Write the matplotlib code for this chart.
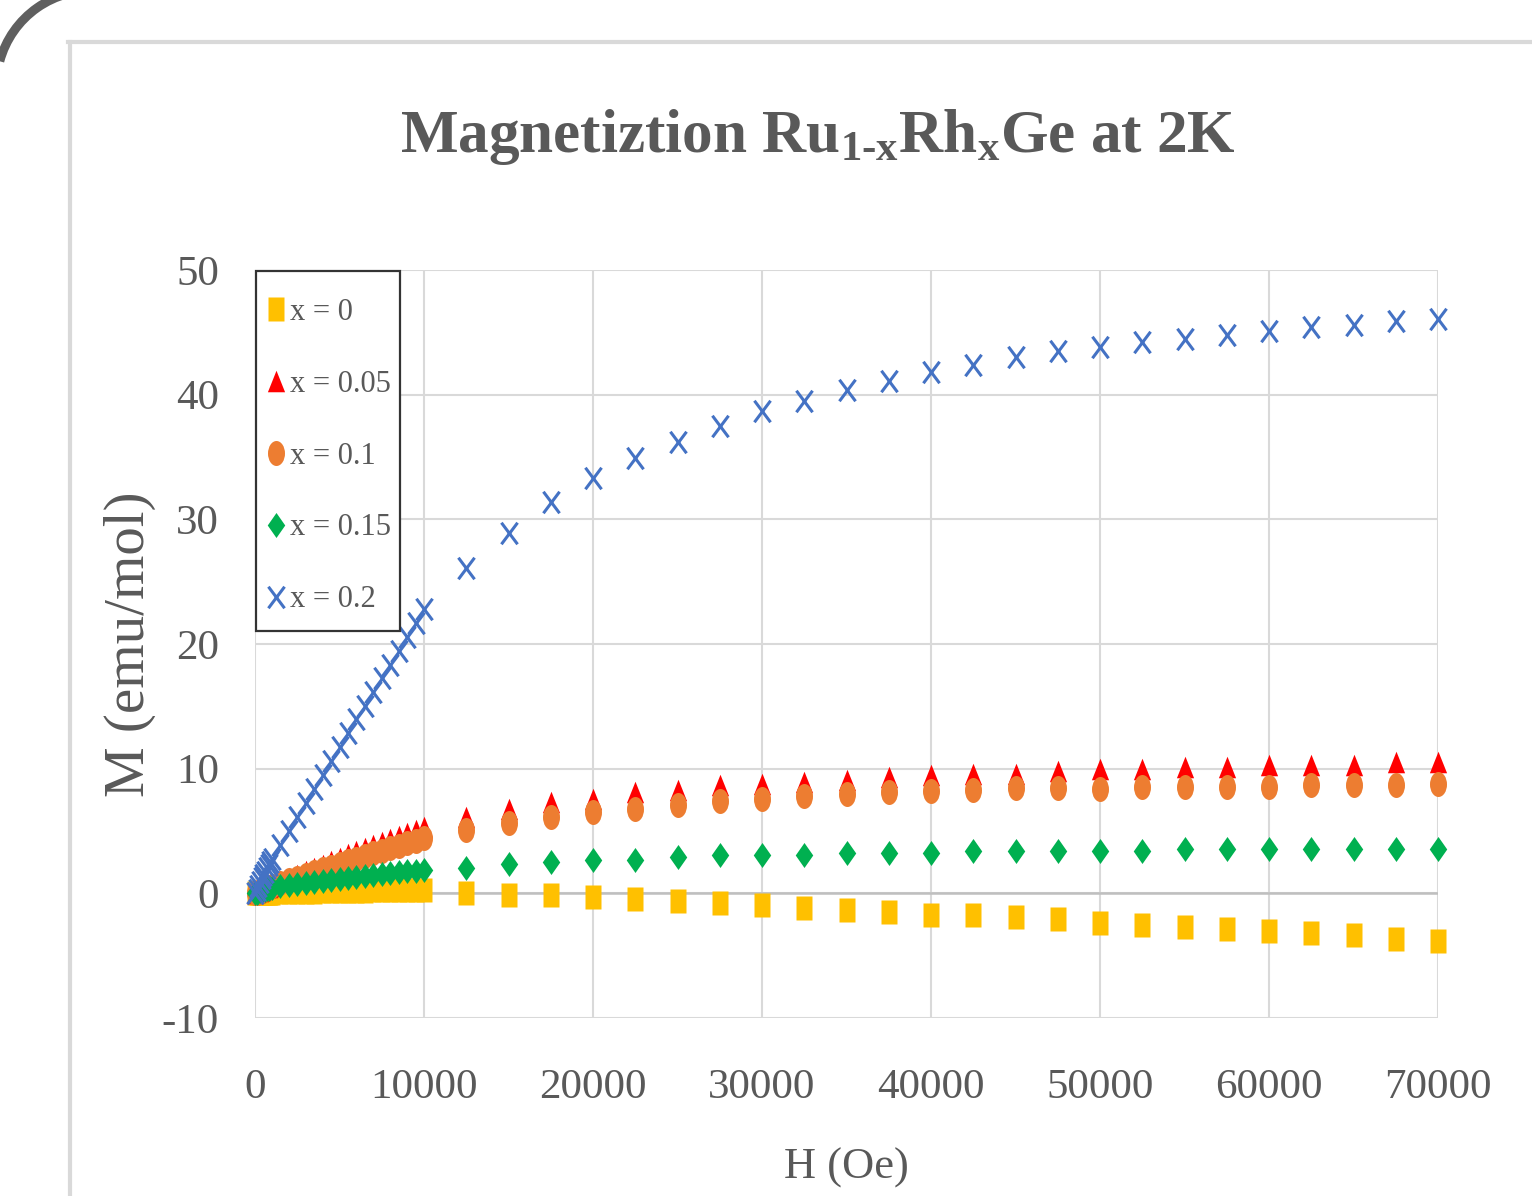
import matplotlib
matplotlib.use("Agg")
import matplotlib.pyplot as plt
import numpy as np
from matplotlib.path import Path
from matplotlib.lines import Line2D
from matplotlib.patches import Arc, Rectangle

plt.rcParams['font.family'] = ['Liberation Serif', 'DejaVu Serif']
plt.rcParams['mathtext.fontset'] = 'custom'
plt.rcParams['mathtext.rm'] = 'Liberation Serif:bold'
plt.rcParams['mathtext.it'] = 'Liberation Serif:bold'
plt.rcParams['mathtext.bf'] = 'Liberation Serif:bold'

# ---------------- data ----------------
field_oe = [0, 100, 200, 300, 400, 500, 600, 700, 800, 900, 1000,
            1500, 2000, 2500, 3000, 3500, 4000, 4500, 5000, 5500, 6000,
            6500, 7000, 7500, 8000, 8500, 9000, 9500, 10000,
            12500, 15000, 17500, 20000, 22500, 25000, 27500, 30000, 32500,
            35000, 37500, 40000, 42500, 45000, 47500, 50000, 52500, 55000,
            57500, 60000, 62500, 65000, 67500, 70000]

m_x0 = [0.0, 0.0, 0.01, 0.02, 0.02, 0.03, 0.03, 0.04, 0.04, 0.05, 0.05,
        0.07, 0.09, 0.11, 0.13, 0.14, 0.16, 0.17, 0.19, 0.2, 0.21,
        0.22, 0.23, 0.24, 0.25, 0.25, 0.26, 0.26, 0.25,
        0.05, -0.14, -0.14, -0.27, -0.46, -0.62, -0.81, -0.95, -1.16,
        -1.35, -1.49, -1.70, -1.76, -1.88, -2.04, -2.37, -2.53, -2.72,
        -2.85, -3.04, -3.17, -3.36, -3.68, -3.84]

m_x005 = [0.0, 0.08, 0.15, 0.22, 0.29, 0.36, 0.42, 0.48, 0.54, 0.6, 0.66,
          0.95, 1.23, 1.5, 1.77, 2.03, 2.29, 2.57, 2.85, 3.12, 3.38,
          3.64, 3.9, 4.14, 4.38, 4.62, 4.86, 5.08, 5.3,
          6.1, 6.8, 7.3, 7.6, 8.1, 8.3, 8.7, 8.8, 8.9,
          9.1, 9.3, 9.5, 9.6, 9.6, 9.8, 9.95, 9.95, 10.1,
          10.1, 10.3, 10.3, 10.3, 10.5, 10.5]

m_x01 = [0.0, 0.06, 0.12, 0.18, 0.24, 0.3, 0.35, 0.4, 0.45, 0.5, 0.55,
         0.8, 1.03, 1.26, 1.49, 1.71, 1.93, 2.15, 2.37, 2.58, 2.79,
         3.0, 3.21, 3.42, 3.62, 3.82, 4.02, 4.22, 4.42,
         5.05, 5.68, 6.14, 6.49, 6.76, 7.11, 7.38, 7.57, 7.84,
         7.97, 8.11, 8.24, 8.30, 8.47, 8.47, 8.39, 8.52, 8.52,
         8.52, 8.52, 8.66, 8.66, 8.66, 8.79]

m_x015 = [0.0, 0.05, 0.1, 0.15, 0.2, 0.25, 0.29, 0.33, 0.37, 0.41, 0.45,
          0.58, 0.68, 0.77, 0.86, 0.94, 1.02, 1.1, 1.18, 1.26, 1.34,
          1.41, 1.48, 1.55, 1.62, 1.69, 1.76, 1.83, 1.9,
          2.03, 2.35, 2.51, 2.70, 2.70, 2.89, 3.05, 3.05, 3.05,
          3.24, 3.24, 3.24, 3.38, 3.41, 3.41, 3.41, 3.41, 3.55,
          3.55, 3.55, 3.55, 3.55, 3.55, 3.55]

m_x02 = [0.0, 0.3, 0.6, 0.9, 1.2, 1.5, 1.75, 2.0, 2.25, 2.5, 2.75,
         3.9, 5.0, 6.15, 7.25, 8.4, 9.5, 10.6, 11.75, 12.85, 13.95,
         15.05, 16.15, 17.25, 18.35, 19.45, 20.55, 21.7, 22.8,
         26.06, 28.9, 31.4, 33.3, 34.9, 36.2, 37.5, 38.7, 39.5,
         40.4, 41.1, 41.8, 42.4, 43.0, 43.5, 43.8, 44.2, 44.5,
         44.8, 45.1, 45.4, 45.6, 45.9, 46.1]

series_labels = ["x = 0", "x = 0.05", "x = 0.1", "x = 0.15", "x = 0.2"]
series_colors = ["#FFC000", "#FF0000", "#ED7D31", "#00B050", "#4472C4"]
x_ticks = [0, 10000, 20000, 30000, 40000, 50000, 60000, 70000]
y_ticks = [-10, 0, 10, 20, 30, 40, 50]

# ---------------- markers (vertically stretched like the source) ----------------
sq = Path([(-0.7, -1), (0.7, -1), (0.7, 1), (-0.7, 1), (-0.7, -1)],
          [Path.MOVETO, Path.LINETO, Path.LINETO, Path.LINETO, Path.CLOSEPOLY])
tri = Path([(0, 1), (-0.8, -1), (0.8, -1), (0, 1)],
           [Path.MOVETO, Path.LINETO, Path.LINETO, Path.CLOSEPOLY])
uc = Path.unit_circle()
ell = Path(uc.vertices * np.array([0.68, 1.0]), uc.codes)
dia = Path([(0, 1), (0.7, 0), (0, -1), (-0.7, 0), (0, 1)],
           [Path.MOVETO, Path.LINETO, Path.LINETO, Path.LINETO, Path.CLOSEPOLY])
xm = Path([(-0.75, -1), (0.75, 1), (-0.75, 1), (0.75, -1)],
          [Path.MOVETO, Path.LINETO, Path.MOVETO, Path.LINETO])

styles = [
    dict(marker=sq, ms=17.3, mec='none'),
    dict(marker=tri, ms=15.5, mec='none'),
    dict(marker=ell, ms=18.0, mec='none'),
    dict(marker=dia, ms=18.0, mec='none'),
    dict(marker=xm, ms=15.5, mfc='none', mew=2.2),
]

W, H = 1532, 1196
fig = plt.figure(figsize=(W / 100, H / 100), dpi=100)
fig.patch.set_facecolor('white')

# overlay for frame + corner arc
ov = fig.add_axes([0, 0, 1, 1], zorder=0)
ov.set_xlim(0, W)
ov.set_ylim(H, 0)
ov.axis('off')
ov.add_line(Line2D([70, 70], [42, H + 5], color='#d9d9d9', lw=3))
ov.add_line(Line2D([68, W + 5], [42, 42], color='#d9d9d9', lw=3))
ov.add_patch(Arc((92, 86), 2 * 95.5, 2 * 95.5, theta1=195, theta2=275,
                 color='#5f5f5f', lw=6.5))

ax = fig.add_axes([255 / W, 1 - 1018 / H, (1438 - 255) / W, (1018 - 270) / H], zorder=2)
ax.set_facecolor('none')

data = [m_x0, m_x005, m_x01, m_x015, m_x02]
handles = []
for vals, lab, col, st in zip(data, series_labels, series_colors, styles):
    kw = dict(st)
    if kw.get('mfc') == 'none':
        kw['mec'] = col
    else:
        kw['mfc'] = col
    h, = ax.plot(field_oe, vals, linestyle='none', color=col, label=lab,
                 zorder=3, clip_on=False, **kw)
    handles.append(h)

ax.set_xlim(0, 70000)
ax.set_ylim(-10, 50)
ax.set_xticks(x_ticks)
ax.set_yticks(y_ticks)
ax.set_xticklabels([str(v) for v in x_ticks])
ax.set_yticklabels([str(v) for v in y_ticks])
ax.grid(True, color='#d9d9d9', lw=1.5, zorder=0)
ax.set_axisbelow(True)
ax.axhline(0, color='#bfbfbf', lw=1.8, zorder=1)
for s in ax.spines.values():
    s.set_visible(False)
ax.tick_params(axis='both', length=0, colors='#595959', labelsize=31)
ax.tick_params(axis='x', pad=36)
ax.tick_params(axis='y', pad=26)

ax.set_xlabel("H (Oe)", fontsize=32, color='#595959', va='center')
ax.xaxis.set_label_coords(0.5, -0.2)
ax.set_ylabel("M (emu/mol)", fontsize=41, color='#595959', va='center')
ax.yaxis.set_label_coords(-0.106, 0.5)

# legend box (drawn explicitly) + legend content
box = Rectangle((256 / W, 1 - 631 / H), (400 - 256) / W, (631 - 271) / H,
                transform=fig.transFigure, facecolor='white',
                edgecolor='#333333', lw=1.6, zorder=4)
ax.add_patch(box)
box.set_clip_on(False)

leg = ax.legend(handles=handles, loc='upper left',
                bbox_to_anchor=(256 / W, 1 - 292 / H),
                bbox_transform=fig.transFigure,
                borderaxespad=0, fontsize=22, frameon=False,
                handlelength=0.9, handletextpad=0.0, labelspacing=1.40,
                borderpad=0.2, labelcolor='#595959')
leg.set_zorder(5)

fig.text(818 / W, 1 - 152 / H,
         r"Magnetiztion Ru$_{\mathrm{1\text{-}x}}$Rh$_{\mathrm{x}}$Ge at 2K",
         fontsize=44, fontweight='bold', color='#595959',
         ha='center', va='baseline')

fig.savefig('out.png', dpi=100, facecolor='white')
